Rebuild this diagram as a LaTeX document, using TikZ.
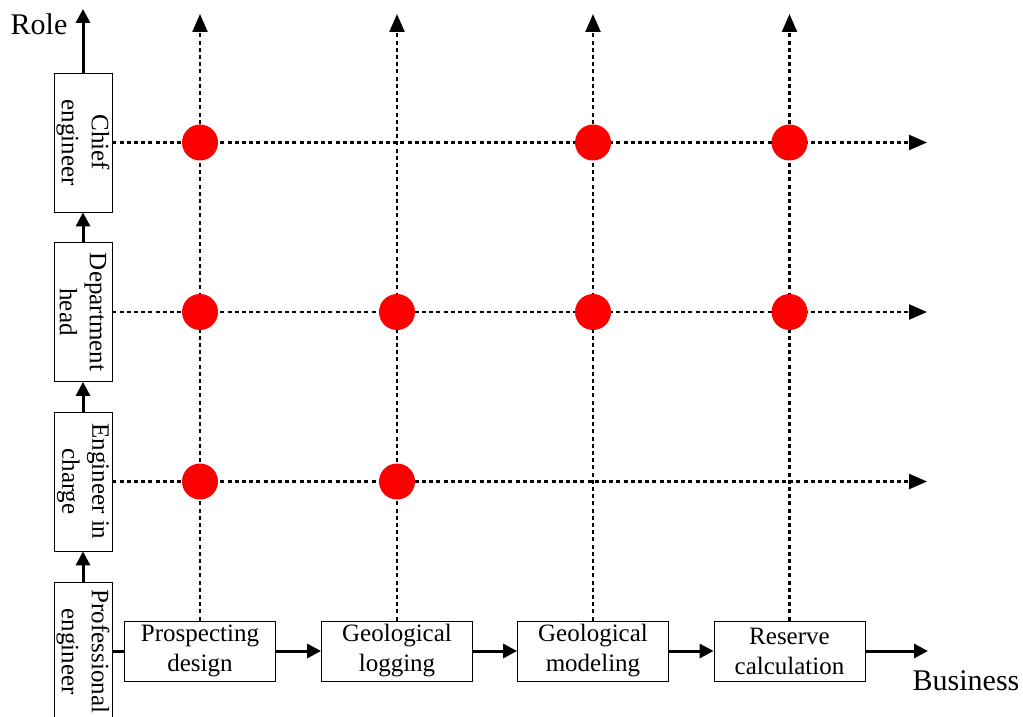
\documentclass[tikz,border=0pt]{standalone}
\usepackage{fontspec}
\setmainfont{Liberation Serif}
\usetikzlibrary{positioning, arrows.meta}

\tikzset{
	role/.style={draw, rotate=-90, align=center, minimum width=69.5pt, minimum height=29pt, inner sep=1pt},
	task/.style={draw, align=center, minimum width=75.5pt, minimum height=30pt, inner sep=1pt},
	flow/.style={line width=1.5pt, -{Triangle[length=7pt, width=7pt]}},
	grid line/.style={line width=1.2pt, dash pattern=on 2pt off 1.6pt, -{Triangle[length=9pt, width=7.5pt]}},
	hit/.style={circle, fill=red, minimum size=18pt, inner sep=0pt},
	axis label/.style={font=\fontsize{15}{18}\selectfont}
}

\begin{document}
\begin{tikzpicture}[x=0.5pt, y=-0.5pt, font=\fontsize{12.5}{15}\selectfont]
		\useasboundingbox (0,0) rectangle (1023,717);
		
		% roles
		\node[role]		(chief)		at (83,142.5)	{Chief\\engineer};
		\node[role]		(dept)		at (83,312)	{Department\\head};
		\node[role]		(incharge)	at (83,481.5)	{Engineer in\\charge};
		\node[role]		(prof)		at (83,651.5)	{Professional\\engineer};
		
		\node[axis label]	(role label)	at (39,24)	{Role};
		\coordinate		(role top)	at (83,9);
		\draw[flow] (chief.west) to (role top);
		\draw[flow] (dept.west) to (chief.east);
		\draw[flow] (incharge.west) to (dept.east);
		\draw[flow] (prof.west) to (incharge.east);
		
		% business
		\node[task]		(design)	at (200,651)	{Prospecting\\design};
		\node[task]		(logging)	at (397,651)	{Geological\\logging};
		\node[task]		(modeling)	at (593,651)	{Geological\\modeling};
		\node[task]		(reserve)	at (789.5,651)	{Reserve\\calculation};
		
		\node[axis label]	(business label) at (966,681)	{Business};
		\coordinate		(business end)	at (928,651);
		\draw[line width=1.5pt] (prof.north |- design.west) to (design.west);
		\draw[flow] (design) to (logging);
		\draw[flow] (logging) to (modeling);
		\draw[flow] (modeling) to (reserve);
		\draw[flow] (reserve) to (business end);
		
		% dotted grid
		\foreach \t in {design, logging, modeling, reserve}
			\draw[grid line] (\t.north) to (\t.north |- 0,14);
		\foreach \r in {chief, dept, incharge}
			\draw[grid line] (\r.north) to (\r.north -| 927,0);
		
		% red dots
		\node[hit]	(c1) at (design |- chief)	{};
		\node[hit]	(c3) at (modeling |- chief)	{};
		\node[hit]	(c4) at (reserve |- chief)	{};
		\node[hit]	(d1) at (design |- dept)	{};
		\node[hit]	(d2) at (logging |- dept)	{};
		\node[hit]	(d3) at (modeling |- dept)	{};
		\node[hit]	(d4) at (reserve |- dept)	{};
		\node[hit]	(e1) at (design |- incharge)	{};
		\node[hit]	(e2) at (logging |- incharge)	{};
		
\end{tikzpicture}
\end{document}
